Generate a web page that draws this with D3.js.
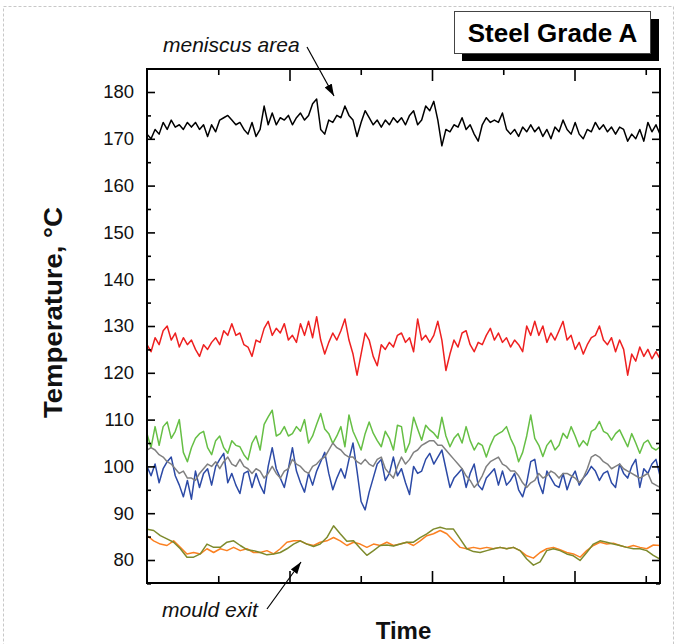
<!DOCTYPE html>
<html>
<head>
<meta charset="utf-8">
<script src="https://cdn.jsdelivr.net/npm/d3@7/dist/d3.min.js"></script>
<style>
  html, body { margin: 0; padding: 0; background: #fff; }
  svg { display: block; }
  text { font-family: "Liberation Sans", Arial, Helvetica, sans-serif; }
</style>
</head>
<body>
<script>
// Mould temperature traces, sampled evenly along the time axis
const meniscus = [171,170,172,171,173.5,172,174,172.5,173,172,
173.5,172.5,173.5,172,173,170.5,173,171.5,174,174.5,
175,174,173,173.5,172,171,173.5,170.5,172,177,
173,175.5,173,174.5,174,175,173,174.5,175.5,174,
175,177.5,178.5,172,171,174,173.5,175,174.5,177,
175,174,170.5,173.5,176,174.5,173,174,172.5,174,
173,174.5,173.5,174.5,173,175,176,173,174,177,
176,178,174,168.5,172,171.5,173,172.5,174.5,172,
173,171,169.5,173,174.5,173.5,174,173.5,175.5,172,
171,172,170.5,172.5,171.5,173,171.5,172.5,170.5,172,
170,172.5,171.5,174,172,171,173.5,171,170,172,
171.5,173.5,172,173,171.5,172.5,171,172.5,172,169.5,
171,170,172,169.5,173.5,171.5,173,171];

const redTrace = [126,124.5,127.5,126,129,130,127,128.5,125.5,127.5,
126,127,125,123.5,126,125,126.5,127.5,126,129,
128,130.5,128,128.5,126,125.5,123.5,127,126.5,129.5,
131,128,129.5,128.5,130.5,127,128,126.5,130.5,128,
131,127.5,132,127,124,126.5,128.5,127,129,131.5,
127,124,119.5,124,128.5,127,123.5,121.5,126,125,
126.5,125.5,128,128.5,126.5,127.5,124.5,131.5,127,128,
126.5,128,131,127,120.5,124,127,125.5,128.5,129,
126,124.5,126.5,126,128,129.5,127,128.5,126.5,127.5,
125.5,127,126,124.5,130,128,131,128,130,126.5,
128.5,127,129,131,127,128,125,126.5,124,126,
127.5,128,130,127,126,127.5,124.5,127,125,119.5,
124,122.5,125.5,123.5,125,123,124.5,123];

const greenTrace = [107,104,108.5,104.5,108.5,109.5,106,107.5,110,103,
101,104,106,107,107.5,104,102.5,105.5,106.5,104,
102.8,105.5,104.5,104.2,102.5,101.4,105,106.5,103.5,109,
110.6,112,106.5,107,108.5,106.5,107,108.5,107.5,110,
105,106.5,109,111.3,108,107,104.9,106.5,108.5,104.2,
111,107.5,105.6,103.5,107,109.5,107.1,105.5,104.2,107.5,
106,103.5,108.8,108.5,103,105,110.5,108,105.6,108.8,
107.8,107.1,106,110.5,106.5,104.2,106,107,105,108.5,
105.5,103.5,105,104.5,102,104.5,106.4,107,107.5,108.5,
106,104.2,101,103,106.5,111,106,104.5,102.1,104.5,
105.6,103.5,104.5,107.1,106,108.5,106.5,104.2,105.5,104.5,
107.5,108,109.6,107.5,107,105.6,107,107.8,106,104.2,
107,105,102.8,105,105.6,104,103.5,104.2];

const blueTrace = [100,98,100.5,96.5,99.5,101,102,98,96,93.5,
97,93,99,95.5,98.5,99.5,96,100,101.5,102.8,
96.5,98.5,96,94.2,98.5,99,95.5,98.5,96,94.2,
100,104,99.5,97.5,95.5,99.5,104,99,96.5,94.5,
98.5,96,99,101,103,98.5,95,97.5,99.5,97.5,
101.5,105,99,92.5,90.7,94.5,97.5,100.5,101.5,97,
98.5,102,98,99.5,96.5,94,100,98.5,99,101.5,
102.8,100.5,102,103.5,99.5,95.5,97.5,98.5,99.5,95.5,
98.5,100.5,96,95,97.5,98.5,99.5,96,99,96,
97,98.5,95,93.5,96.5,101,101.5,96.5,94.2,99,
97.5,96,95.5,98.5,95,97.5,99,96,97.5,98.5,
100,99,97,98.5,99,96.5,95.5,100.5,98.5,97.5,
100,101.5,95.5,99.5,98.5,100.5,101.5,98];

const greyTrace = [103.5,104,103.5,102.5,102,101,100.5,99.5,98.5,99,
97.5,97.5,97,98.5,99.5,100.5,100,101,99.5,101,
102,100.5,100,101.5,100,99.5,98.5,99.5,99,97.5,
98.5,100,98.5,97.5,99,99.5,101.5,100.5,100,99,
98.5,100,100.5,101.5,102,103.5,105,104,103.5,102.5,
102,102,101,100.5,101.5,100.5,100,101.5,102,99.5,
98.5,97.5,100,102,100.5,101.5,103,103.5,104.5,105,
105.5,105.5,104.5,104.5,103.5,102.5,101.5,100.5,99.5,98,
97,95.5,96.5,98,100,101,101.5,102,100.5,100,
99,99,98,96.5,95.5,96.5,97,98.5,97.5,98,
99,98.5,97.5,98.5,98.5,98,97.5,96.5,97.5,99.5,
102,102.5,102,101,100.5,99.5,100,100.5,99.5,99,
98.5,98,97.5,98,98.5,96.5,96,95.5];

const orangeTrace = [85.2,84.1,83.4,83.1,84.1,82.7,81.3,81.6,81.3,82.4,
81.6,82.4,82.0,82.7,82.0,82.4,81.6,81.6,82.0,81.3,
82.4,83.8,84.1,84.1,83.4,83.1,83.8,84.1,84.8,84.1,
83.1,83.8,83.4,82.7,83.4,83.1,83.8,83.1,83.4,83.8,
83.1,84.1,85.2,85.6,86.3,85.6,84.1,82.7,82.4,82.7,
82.4,82.7,82.4,82.7,82.4,82.7,82.0,80.9,80.4,81.6,
82.4,82.7,82.2,81.6,81.3,80.6,82.0,83.1,83.8,83.4,
83.6,83.1,82.7,83.1,82.7,82.4,83.2,83.1];

const oliveTrace = [86.6,86.3,85.2,84.5,83.8,82.4,80.6,80.6,81.3,83.4,
82.7,82.7,83.8,84.1,83.1,82.2,82.0,81.6,81.1,81.3,
81.6,82.4,83.4,84.1,83.4,82.9,83.4,84.8,87.3,85.6,
84.0,84.1,82.5,81.0,82.0,83.1,83.2,83.0,83.4,83.8,
83.8,84.8,85.6,86.6,87.0,86.6,86.6,84.5,82.4,81.8,
81.6,82.0,82.4,82.7,82.4,82.7,82.0,80.2,78.9,79.6,
82.0,82.4,82.0,81.3,80.9,79.9,81.6,83.4,84.1,83.8,
83.4,83.1,82.7,82.4,82.4,82.0,81.0,80.2];

const yMajorTicks = [80, 90, 100, 110, 120, 130, 140, 150, 160, 170, 180];
const yMinorTicks = [75, 85, 95, 105, 115, 125, 135, 145, 155, 165, 175, 185];
const xMajorTicks = [1, 2, 3];
const xMinorTicks = [0.5, 1.5, 2.5, 3.5];

const series = [
  { values: meniscus,     color: "#000000" },
  { values: redTrace,     color: "#ee2020" },
  { values: greenTrace,   color: "#66bf45" },
  { values: blueTrace,    color: "#2c4aa6" },
  { values: greyTrace,    color: "#808080" },
  { values: orangeTrace,  color: "#fb8122" },
  { values: oliveTrace,   color: "#7d8a2c" }
];

const W = 677, H = 644;
const plotLeft = 147, plotRight = 660, plotTop = 69, plotBottom = 583;
const tMax = 3.6;

const x = d3.scaleLinear().domain([0, tMax]).range([plotLeft, plotRight]);
const y = d3.scaleLinear().domain([75, 185]).range([583.4, 68.6]);

const svg = d3.select("body").append("svg")
  .attr("width", W).attr("height", H);

// dotted page border
svg.append("rect")
  .attr("x", 3.5).attr("y", 6.5).attr("width", 670).attr("height", 700)
  .attr("fill", "none").attr("stroke", "#c8c8c8").attr("stroke-width", 1)
  .attr("stroke-dasharray", "3,2");

const defs = svg.append("defs");
defs.append("clipPath").attr("id", "plot-clip")
  .append("rect").attr("x", plotLeft).attr("y", plotTop)
  .attr("width", plotRight - plotLeft).attr("height", plotBottom - plotTop);

// traces
const lineGen = n => d3.line()
  .x((d, i) => x(i * tMax / (n - 1)))
  .y(d => y(d));

const traces = svg.append("g").attr("clip-path", "url(#plot-clip)");
series.forEach(s => {
  traces.append("path")
    .datum(s.values)
    .attr("d", lineGen(s.values.length))
    .attr("fill", "none")
    .attr("stroke", s.color)
    .attr("stroke-width", 1.5)
    .attr("stroke-linejoin", "round");
});

// axes with inward ticks
function styleAxis(g) {
  g.select(".domain").remove();
  g.selectAll(".tick line").attr("stroke", "#000").attr("stroke-width", 1.6);
  g.selectAll(".tick text")
    .attr("fill", "#111")
    .style("font-size", "18.5px")
    .style("font-family", '"Liberation Sans", Arial, sans-serif');
}

svg.append("g").attr("transform", `translate(${plotLeft},0)`)
  .call(d3.axisLeft(y).tickValues(yMajorTicks).tickSize(-8).tickPadding(13).tickFormat(d3.format("d")))
  .call(styleAxis);
svg.append("g").attr("transform", `translate(${plotLeft},0)`)
  .call(d3.axisLeft(y).tickValues(yMinorTicks).tickSize(-4).tickFormat(""))
  .call(styleAxis);
svg.append("g").attr("transform", `translate(${plotRight},0)`)
  .call(d3.axisRight(y).tickValues(yMajorTicks).tickSize(-8).tickFormat(""))
  .call(styleAxis);
svg.append("g").attr("transform", `translate(${plotRight},0)`)
  .call(d3.axisRight(y).tickValues(yMinorTicks).tickSize(-4).tickFormat(""))
  .call(styleAxis);

svg.append("g").attr("transform", `translate(0,${plotBottom})`)
  .call(d3.axisBottom(x).tickValues(xMajorTicks).tickSize(-12).tickFormat(""))
  .call(styleAxis);
svg.append("g").attr("transform", `translate(0,${plotBottom})`)
  .call(d3.axisBottom(x).tickValues(xMinorTicks).tickSize(-7).tickFormat(""))
  .call(styleAxis);
svg.append("g").attr("transform", `translate(0,${plotTop})`)
  .call(d3.axisTop(x).tickValues(xMajorTicks).tickSize(-12).tickFormat(""))
  .call(styleAxis);
svg.append("g").attr("transform", `translate(0,${plotTop})`)
  .call(d3.axisTop(x).tickValues(xMinorTicks).tickSize(-6).tickFormat(""))
  .call(styleAxis);

// plot frame
svg.append("rect")
  .attr("x", plotLeft).attr("y", plotTop)
  .attr("width", plotRight - plotLeft).attr("height", plotBottom - plotTop)
  .attr("fill", "none").attr("stroke", "#000").attr("stroke-width", 2);

// axis titles
svg.append("text")
  .attr("x", (plotLeft + plotRight) / 2).attr("y", 639)
  .attr("text-anchor", "middle")
  .style("font-size", "24px").style("font-weight", "bold")
  .attr("fill", "#111")
  .text("Time");

svg.append("text")
  .attr("transform", "translate(62,312.5) rotate(-90)")
  .attr("text-anchor", "middle")
  .attr("textLength", 211).attr("lengthAdjust", "spacingAndGlyphs")
  .style("font-size", "25px").style("font-weight", "bold")
  .attr("fill", "#111")
  .text("Temperature, °C");

// title box with drop shadow
svg.append("rect")
  .attr("x", 462).attr("y", 19).attr("width", 197).attr("height", 42)
  .attr("fill", "#000");
svg.append("rect")
  .attr("x", 454.5).attr("y", 11.5).attr("width", 196).attr("height", 42)
  .attr("fill", "#fff").attr("stroke", "#444").attr("stroke-width", 1);
svg.append("text")
  .attr("x", 552.5).attr("y", 42)
  .attr("text-anchor", "middle")
  .style("font-size", "26px").style("font-weight", "bold")
  .attr("fill", "#000")
  .text("Steel Grade A");

// annotations
defs.append("marker")
  .attr("id", "arrowhead")
  .attr("viewBox", "0 0 12 8")
  .attr("refX", 12).attr("refY", 4)
  .attr("markerWidth", 12).attr("markerHeight", 8)
  .attr("markerUnits", "userSpaceOnUse")
  .attr("orient", "auto")
  .append("path").attr("d", "M0,0 L12,4 L0,8 Z").attr("fill", "#000");

svg.append("text")
  .attr("x", 163).attr("y", 52)
  .style("font-size", "21px").style("font-style", "italic")
  .attr("fill", "#111")
  .text("meniscus area");
svg.append("line")
  .attr("x1", 307).attr("y1", 47).attr("x2", 334).attr("y2", 96)
  .attr("stroke", "#000").attr("stroke-width", 1.2)
  .attr("marker-end", "url(#arrowhead)");

svg.append("text")
  .attr("x", 162).attr("y", 617)
  .style("font-size", "21px").style("font-style", "italic")
  .attr("fill", "#111")
  .text("mould exit");
svg.append("line")
  .attr("x1", 267).attr("y1", 609).attr("x2", 301).attr("y2", 562)
  .attr("stroke", "#000").attr("stroke-width", 1.2)
  .attr("marker-end", "url(#arrowhead)");
</script>
</body>
</html>
